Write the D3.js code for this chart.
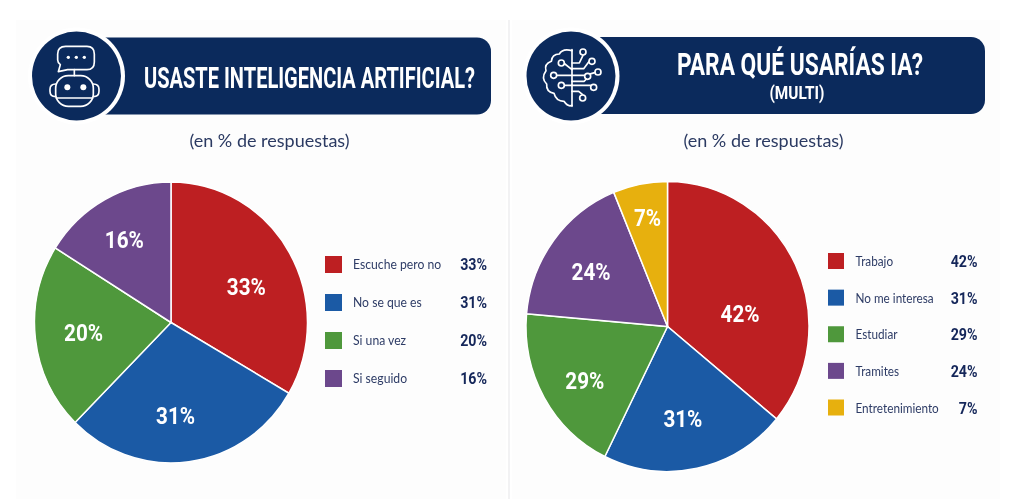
<!DOCTYPE html>
<html>
<head>
<meta charset="utf-8">
<script src="https://cdn.jsdelivr.net/npm/d3@7"></script>
<style>
  html, body { margin: 0; padding: 0; background: #fff; overflow: hidden; }
  svg { display: block; filter: blur(0.45px); }
  .cond { font-family: "Roboto", sans-serif; font-weight: 700; }
  .soft { font-family: "Lato", "Noto Sans", sans-serif; }
</style>
</head>
<body>
<svg id="chart" width="1024" height="499"></svg>
<script>
// left panel
var usoCategories = ["Escuche pero no", "No se que es", "Si una vez", "Si seguido"];
var usoLabels     = [33, 31, 20, 16];
var usoSlices     = [33.4, 29, 21.5, 16.1];

var paraCategories = ["Trabajo", "No me interesa", "Estudiar", "Tramites", "Entretenimiento"];
var paraLabels     = [42, 31, 29, 24, 7];
var paraSlices     = [36, 21.3, 19.1, 17.4, 6.2];

var colors = ["#bd1f22", "#1b5aa5", "#4f983c", "#6c488c", "#e7b00e"];
var navy = "#0b2a5c", legendInk = "#2e3c66", valueInk = "#15275a", subInk = "#2b3a62";

var svg = d3.select("#chart");

// faint panels and divider
svg.append("rect").attr("x", 16).attr("y", 20).attr("width", 490).attr("height", 479).attr("fill", "#fdfdfd");
svg.append("rect").attr("x", 512).attr("y", 20).attr("width", 488).attr("height", 479).attr("fill", "#fdfdfd");
svg.append("line").attr("x1", 509).attr("x2", 509).attr("y1", 20).attr("y2", 499)
  .attr("stroke", "#e9e9ec").attr("stroke-width", 1.2);

function fitText(sel, width) {
  return sel.attr("textLength", width).attr("lengthAdjust", "spacingAndGlyphs");
}

// the reference type is narrower than anything installed
function squeeze(sel, k) {
  return sel.each(function () {
    fitText(d3.select(this), this.getComputedTextLength() * k);
  });
}

function header(cfg) {
  var g = svg.append("g");
  g.append("rect")
    .attr("x", cfg.cx).attr("y", cfg.top)
    .attr("width", cfg.right - cfg.cx).attr("height", cfg.bottom - cfg.top)
    .attr("rx", 14).attr("fill", navy);
  g.append("circle").attr("cx", cfg.cx).attr("cy", 76).attr("r", 48.5).attr("fill", "#fff");
  g.append("circle").attr("cx", cfg.cx).attr("cy", 76).attr("r", 44.5).attr("fill", navy);
}

function drawRobot() {
  var g = svg.append("g").attr("transform", "translate(25,28) scale(0.3333)")
    .attr("fill", "none").attr("stroke", "#fff").attr("stroke-width", 5)
    .attr("stroke-linecap", "round").attr("stroke-linejoin", "round");
  g.append("path").attr("d", "M122,55 H186 Q208,55 208,78 V102 Q208,125 186,125 H128 L100,131 L106,110 Q98,104 98,96 V78 Q98,55 122,55 Z");
  g.append("path").attr("d", "M148,125 V143");
  g.append("rect").attr("x", 92).attr("y", 143).attr("width", 113).attr("height", 92).attr("rx", 38);
  g.append("path").attr("d", "M92,168 Q75,168 75,184 V190 Q75,206 92,206 M205,168 Q222,168 222,184 V190 Q222,206 205,206");
  g.append("path").attr("d", "M94,210 H203");
  [130, 154, 178].forEach(function (x) {
    g.append("circle").attr("cx", x).attr("cy", 88).attr("r", 5).attr("fill", "#fff").attr("stroke", "none");
  });
  [127, 175].forEach(function (x) {
    g.append("circle").attr("cx", x).attr("cy", 178).attr("r", 9).attr("fill", "#fff").attr("stroke", "none");
  });
}

function drawBrain() {
  var g = svg.append("g").attr("transform", "translate(522,28) scale(0.3333)")
    .attr("fill", "none").attr("stroke", "#fff").attr("stroke-width", 5)
    .attr("stroke-linecap", "round").attr("stroke-linejoin", "round");
  g.append("path").attr("d", "M150,65 V235");
  g.append("path").attr("d", "M150,68 Q122,60 112,78 Q90,78 88,100 Q66,108 72,128 Q56,150 74,168 Q72,192 96,196 Q102,220 126,220 Q138,238 150,232");
  // circuit traces
  g.append("path").attr("d", "M150,105 H172 L183,82");
  g.append("path").attr("d", "M150,122 H185 L200,102");
  g.append("path").attr("d", "M102,142 H190 L218,134");
  g.append("path").attr("d", "M150,160 H186 L194,153");
  g.append("path").attr("d", "M150,172 H205");
  g.append("path").attr("d", "M150,190 H170 L182,200");
  g.append("path").attr("d", "M125,105 L150,125");
  g.append("path").attr("d", "M125,172 H150");
  [[183,72],[210,100],[228,132],[197,145],[215,178],[182,210],[118,105],[95,142],[118,172]].forEach(function (p) {
    g.append("circle").attr("cx", p[0]).attr("cy", p[1]).attr("r", 9).attr("fill", navy);
  });
}

function drawPie(cfg) {
  var g = svg.append("g")
    .attr("transform", "translate(" + cfg.cx + "," + cfg.cy + ") scale(1," + (cfg.ry / cfg.rx) + ")");
  var pie = d3.pie().sort(null).value(function (d) { return d; });
  var arcs = pie(cfg.slices);
  var arc = d3.arc().innerRadius(0).outerRadius(cfg.rx);
  var labelArc = d3.arc().innerRadius(88).outerRadius(88);

  g.selectAll("path").data(arcs).enter().append("path")
    .attr("d", arc)
    .attr("fill", function (d, i) { return colors[i]; })
    .attr("stroke", "#fff").attr("stroke-width", 1.5);

  svg.selectAll(null).data(arcs).enter().append("text")
    .attr("class", "cond")
    .attr("x", function (d, i) { return cfg.cx + labelArc.centroid(d)[0] + cfg.nudge[i][0]; })
    .attr("y", function (d, i) { return cfg.cy + labelArc.centroid(d)[1] + cfg.nudge[i][1]; })
    .attr("text-anchor", "middle").attr("dominant-baseline", "central")
    .attr("font-size", 23.5).attr("fill", "#fff")
    .text(function (d, i) { return cfg.labels[i] + "%"; })
    .call(squeeze, 0.88);
}

function drawLegend(cfg) {
  var y = d3.scalePoint().domain(cfg.names).range([cfg.y0, cfg.y1]);
  var row = svg.selectAll(null).data(cfg.names).enter().append("g")
    .attr("transform", function (d) { return "translate(0," + y(d) + ")"; });
  row.append("rect")
    .attr("x", cfg.swatch).attr("y", -8.5).attr("width", cfg.size).attr("height", cfg.size)
    .attr("fill", function (d, i) { return colors[i]; });
  row.append("text")
    .attr("class", "soft").attr("x", cfg.text).attr("dy", "0.35em")
    .attr("font-size", cfg.font).attr("fill", legendInk)
    .text(function (d) { return d; })
    .call(squeeze, 0.87);
  row.append("text")
    .attr("class", "cond").attr("x", cfg.value).attr("dy", "0.35em")
    .attr("text-anchor", "end").attr("font-size", 16).attr("fill", valueInk)
    .text(function (d, i) { return cfg.labels[i] + "%"; })
    .call(squeeze, 0.89);
}

// left side
header({ cx: 76.5, top: 37.5, bottom: 114.5, right: 491 });
drawRobot();
fitText(svg.append("text").attr("class", "cond")
  .attr("x", 144).attr("y", 88).attr("font-size", 30).attr("fill", "#fff")
  .text("USASTE INTELIGENCIA ARTIFICIAL?"), 331);
svg.append("text").attr("class", "soft").attr("x", 269.5).attr("y", 147)
  .attr("text-anchor", "middle").attr("font-size", 18).attr("fill", subInk)
  .text("(en % de respuestas)");
drawPie({
  cx: 171, cy: 322.5, rx: 136.5, ry: 140.5,
  slices: usoSlices, labels: usoLabels,
  nudge: [[-1, 8], [-7, 6], [0, 0], [-4, -6]]
});
drawLegend({
  names: usoCategories, labels: usoLabels,
  y0: 264.5, y1: 378.5, swatch: 325, size: 17, text: 353, value: 487, font: 14
});

// right side
header({ cx: 571, top: 37, bottom: 114, right: 985 });
drawBrain();
fitText(svg.append("text").attr("class", "cond")
  .attr("x", 677).attr("y", 75).attr("font-size", 31).attr("fill", "#fff")
  .text("PARA QUÉ USARÍAS IA?"), 246);
fitText(svg.append("text").attr("class", "cond")
  .attr("x", 797).attr("y", 99).attr("text-anchor", "middle").attr("font-size", 18).attr("fill", "#fff")
  .text("(MULTI)"), 55);
svg.append("text").attr("class", "soft").attr("x", 763.5).attr("y", 147)
  .attr("text-anchor", "middle").attr("font-size", 18).attr("fill", subInk)
  .text("(en % de respuestas)");
drawPie({
  cx: 667.5, cy: 326.5, rx: 141.5, ry: 145,
  slices: paraSlices, labels: paraLabels,
  nudge: [[-7, 24.5], [-3, 6.5], [-6, 11.5], [-5.5, -2.5], [-3, -22.5]]
});
drawLegend({
  names: paraCategories, labels: paraLabels,
  y0: 261.5, y1: 408, swatch: 828, size: 16, text: 855.5, value: 977.5, font: 13.5
});
</script>
</body>
</html>
